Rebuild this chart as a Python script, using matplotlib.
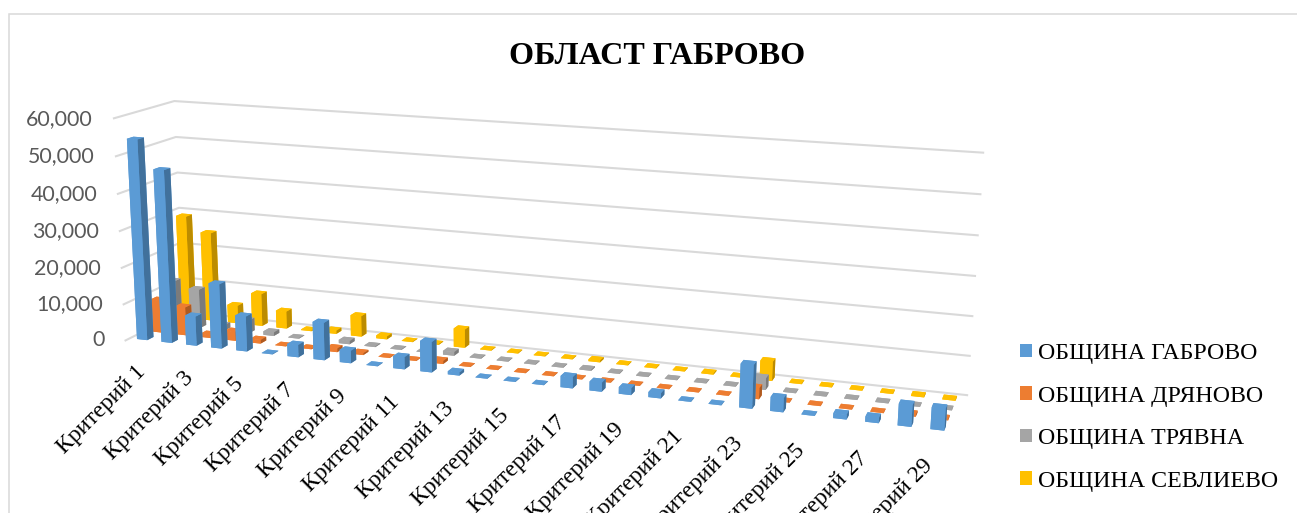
import numpy as np
import matplotlib
matplotlib.use('Agg')
import matplotlib.pyplot as plt
from matplotlib.patches import Patch, Rectangle
from mpl_toolkits.mplot3d import proj3d

W, H = 1297, 513

criteria = ['Критерий %d' % (i + 1) for i in range(29)]
series_names = ['ОБЩИНА ГАБРОВО', 'ОБЩИНА ДРЯНОВО', 'ОБЩИНА ТРЯВНА', 'ОБЩИНА СЕВЛИЕВО']
gabrovo = [54400, 46800, 8000, 17500, 9500, 100, 3300, 10000, 3300, 100, 3200, 8000, 800, 100, 100,
           100, 2900, 2300, 1700, 1300, 100, 100, 10900, 3500, 100, 1200, 1300, 5300, 5300]
dryanovo = [9000, 7800, 900, 2500, 1000, 100, 150, 1000, 500, 100, 100, 800, 100, 100, 100,
            100, 100, 100, 100, 100, 100, 100, 2800, 100, 100, 100, 100, 500, 300]
tryavna = [12500, 10800, 1500, 3500, 1000, 150, 200, 900, 200, 150, 150, 1000, 150, 150, 150,
           150, 300, 150, 150, 150, 150, 150, 3000, 150, 150, 150, 150, 150, 150]
sevlievo = [29000, 24900, 5000, 9000, 4800, 200, 900, 5700, 800, 150, 200, 5000, 150, 150, 150,
            150, 500, 150, 150, 150, 300, 150, 5000, 150, 150, 150, 150, 300, 250]
z_ticks = [0, 10000, 20000, 30000, 40000, 50000, 60000]

colors = ['#5B9BD5', '#ED7D31', '#A5A5A5', '#FFC000']
side_colors = ['#41719C', '#AE5A21', '#7B7B7B', '#BC8C00']
grid_color = '#D9D9D9'
serif = 'Liberation Serif'

fig = plt.figure(figsize=(W / 100, H / 100), dpi=100)
fig.patch.set_facecolor('white')

# камера подобрана под перспективу оригинала
side = 919.3
ax = fig.add_axes([55.28 / W, -211.52 / H, side / W, side / H], projection='3d', computed_zorder=False)
ax.patch.set_alpha(0)
ax.set_xlim(0, 29)
ax.set_ylim(0, 4)
ax.set_zlim(0, 60000)
ax.view_init(13.8631, -70.5957, -0.2328)
ax.set_proj_type('persp', focal_length=0.3591)
ax.set_box_aspect((1, 0.1402, 0.2769), zoom=0.9534)
ax.set_axis_off()
proj = ax.get_proj()


def put_text(x, y, z, s, **kw):
    # 3D-текст игнорирует rotation, поэтому ставим его в 2D по проекции точки
    px, py, _ = proj3d.proj_transform(x, y, z, proj)
    ax.text2D(px, py, s, transform=ax.transData, clip_on=False, **kw)


# сетка на стенках
for z in z_ticks:
    ax.plot([0, 0, 29], [0, 4, 4], [z, z, z], color=grid_color, lw=1.5, zorder=1, clip_on=False)
    put_text(-0.85, 0, z - 500, format(z, ','), ha='right', va='center', family='Lato', fontsize=15.4, color='#595959')

# столбцы: сзади вперёд, слева направо
all_series = [gabrovo, dryanovo, tryavna, sevlievo]
dx, dy = 0.42, 0.42
for j in range(3, -1, -1):
    for i, val in enumerate(all_series[j]):
        c, d = colors[j], side_colors[j]
        # порядок граней: низ, верх, перед, зад, лево, право
        bar = ax.bar3d(i + 0.5 - dx / 2, j + 0.5 - dy / 2, 0, dx, dy, val,
                       color=[c, c, c, c, c, d], shade=False, edgecolor='none', linewidth=0,
                       zorder=10 + (3 - j) * 100 + i)
        bar.set_clip_on(False)

for i in range(0, 29, 2):
    put_text(i + 0.3, 0.5, -8800, criteria[i], rotation=45, rotation_mode='anchor', ha='right', va='center',
             family=serif, fontsize=17, color='black', zorder=1000)

fig.text(657 / W, 1 - 56 / H, 'ОБЛАСТ ГАБРОВО', ha='center', va='center', family=serif,
         fontweight='bold', fontsize=23.1, color='black')

handles = [Patch(facecolor=c, edgecolor='none', label=n) for c, n in zip(colors, series_names)]
fig.legend(handles=handles, loc='upper left', bbox_to_anchor=(1013 / W, 1 - 336 / H), frameon=False,
           prop={'family': serif, 'size': 17.2}, handlelength=0.5, handleheight=0.5,
           handletextpad=0.25, labelspacing=0.9, borderpad=0.3, borderaxespad=0)

fig.add_artist(Rectangle((8.5 / W, -5 / H), 1300 / W, 504 / H, transform=fig.transFigure,
                         facecolor='none', edgecolor=grid_color, lw=1.1))

fig.savefig('out.png', dpi=100)
